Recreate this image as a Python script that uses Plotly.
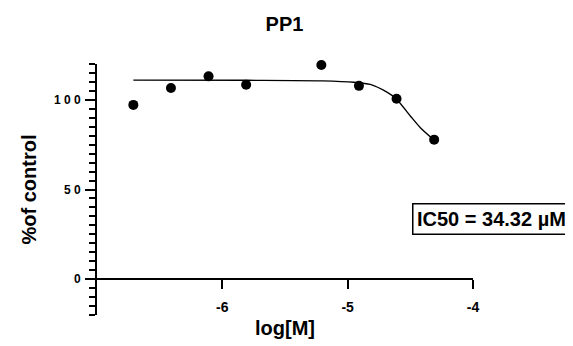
import plotly.graph_objects as go

# Measured data (log molar concentration vs % of control)
log_conc = [-6.71, -6.41, -6.11, -5.81, -5.21, -4.91, -4.61, -4.31]
pct_control = [97.2, 106.6, 113.1, 108.4, 119.4, 107.8, 100.6, 77.8]

# Fitted curve
fit_x = [-6.71, -5.8, -5.2, -4.95, -4.82, -4.69, -4.61, -4.50, -4.42, -4.31]
fit_y = [111.0, 110.9, 110.6, 109.8, 108.6, 104.4, 100.4, 91.0, 84.5, 77.6]

x_ticks = [-6, -5, -4]
x_ticktext = ["-6", "-5", "-4"]
y_ticks = [0, 50, 100]
y_ticktext = ["0", "5 0", "1 0 0"]

title_text = "PP1"
x_title = "log[M]"
y_title = "%of control"
ic50_label = "IC50 = 34.32 µM"

FONT = "Arial, Liberation Sans, sans-serif"
y_range = [-20, 120]
x_range = [-7, -4]

W, H = 565, 338
L, T, R, B = 89, 56, 100, 31

fig = go.Figure()
fig.add_trace(go.Scatter(
    x=fit_x, y=fit_y, mode="lines",
    line=dict(color="black", width=1.4, shape="spline", smoothing=0.8),
    hoverinfo="skip", showlegend=False, cliponaxis=False,
))
fig.add_trace(go.Scatter(
    x=log_conc, y=pct_control, mode="markers",
    marker=dict(color="black", size=10),
    showlegend=False, cliponaxis=False,
))

fig.update_layout(
    width=W, height=H,
    margin=dict(l=L, r=R, t=T, b=B),
    plot_bgcolor="white", paper_bgcolor="white",
    font=dict(family=FONT, color="black"),
    title=dict(text="<b>%s</b>" % title_text, xref="container", x=276.5 / W, xanchor="center",
               yref="container", y=1 - 16 / H, yanchor="middle",
               font=dict(size=20, family=FONT, color="black")),
    showlegend=False,
)

fig.update_xaxes(
    range=x_range, anchor="free", position=(0 - y_range[0]) / (y_range[1] - y_range[0]),
    showline=True, linecolor="black", linewidth=2,
    showgrid=False, zeroline=False,
    ticks="outside", ticklen=9, tickwidth=2, tickcolor="black",
    tickvals=x_ticks, ticktext=["<b>%s</b>" % t for t in x_ticktext], ticklabelstandoff=6,
    tickfont=dict(size=14, family=FONT, color="black"),
    title=dict(text="<b>%s</b>" % x_title, font=dict(size=20, family=FONT, color="black"), standoff=6),
    automargin=False,
)
fig.update_yaxes(
    range=y_range,
    showline=True, linecolor="black", linewidth=2,
    showgrid=False, zeroline=False,
    ticks="outside", ticklen=10, tickwidth=2, tickcolor="black",
    tickvals=y_ticks, ticktext=["<b>%s</b>" % t for t in y_ticktext], ticklabelstandoff=2,
    tickfont=dict(size=12, family=FONT, color="black"),
    minor=dict(dtick=5, ticks="outside", ticklen=6, tickwidth=1.5, tickcolor="black", showgrid=False),
    title=dict(text="<b>%s</b>" % y_title, font=dict(size=20, family=FONT, color="black"), standoff=12),
    automargin=False,
)

fig.add_annotation(
    xref="paper", yref="paper",
    x=(483 - L) / (W - L - R), y=(H - B - 211) / (H - T - B),
    xanchor="center", yanchor="middle",
    text="<b>%s</b>" % ic50_label, showarrow=False,
    font=dict(size=20, family=FONT, color="black"),
    bordercolor="black", borderwidth=1.5, borderpad=3.5,
    bgcolor="white",
)

fig.write_html("out.html")
